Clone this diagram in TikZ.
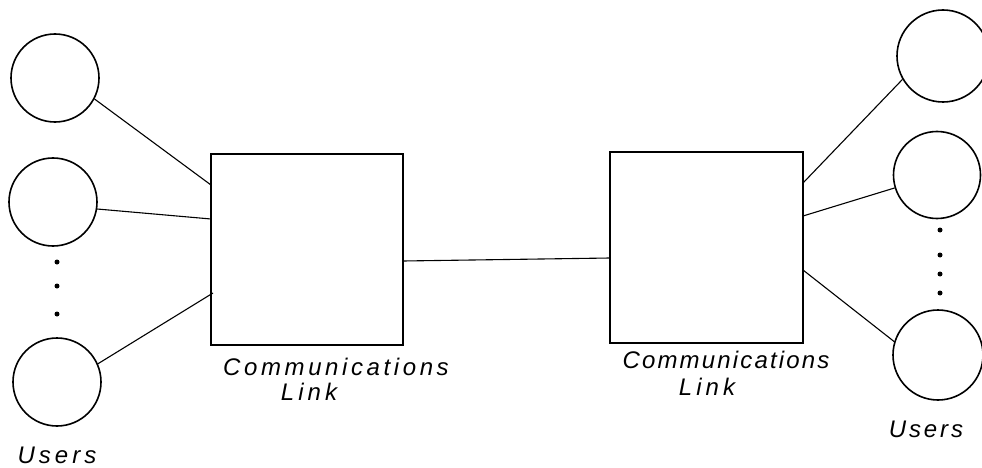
\documentclass[tikz,border=0pt]{standalone}
\usepackage{fontspec}
\setmainfont{Liberation Sans}
\begin{document}
\begin{tikzpicture}[x=1pt,y=-1pt,
  user/.style={draw, circle, line width=1.6pt, minimum size=88pt, inner sep=0pt},
  linkbox/.style={draw, rectangle, line width=1.6pt, inner sep=0pt},
  wire/.style={line width=1.1pt},
  hand/.style={font=\fontsize{24}{26}\selectfont\itshape\addfontfeature{LetterSpace=#1}, inner sep=0pt, anchor=base},
  dotmark/.style={fill, circle, inner sep=0pt, minimum size=5pt}]
  \useasboundingbox (0,0) rectangle (982,468);

  % left group of users
  \node[user] (l1) at (55,78) {};
  \node[user] (l2) at (53,202) {};
  \node[user] (l3) at (57,382) {};
  \node[dotmark] (ld1) at (57,262) {};
  \node[dotmark] (ld2) at (57,286) {};
  \node[dotmark] (ld3) at (57,314) {};

  % right group of users
  \node[user, minimum size=92pt] (r1) at (943,56) {};
  \node[user, minimum size=87pt] (r2) at (937,175) {};
  \node[user, minimum size=90pt] (r3) at (938,355) {};
  \node[dotmark] (rd1) at (940,230) {};
  \node[dotmark] (rd2) at (940,255) {};
  \node[dotmark] (rd3) at (940,274) {};
  \node[dotmark] (rd4) at (940,293) {};

  % communications link boxes
  \node[linkbox, minimum width=192pt, minimum height=191pt] (bl) at (307,249.5) {};
  \node[linkbox, minimum width=193pt, minimum height=191pt] (br) at (706.5,247.5) {};

  % attachment points on the box sides
  \coordinate (bl1) at (211,185);
  \coordinate (bl2) at (211,219);
  \coordinate (bl3) at (213,293);
  \coordinate (bl4) at (403,261);
  \coordinate (br0) at (610,258);
  \coordinate (br1) at (803,183);
  \coordinate (br2) at (803,216);
  \coordinate (br3) at (803,270);

  % connectors
  \draw[wire] (l1.-28) -- (bl1);
  \draw[wire] (l2.-9) -- (bl2);
  \draw[wire] (l3.24) -- (bl3);
  \draw[wire] (bl4) -- (br0);
  \draw[wire] (r1.210) -- (br1);
  \draw[wire] (r2.197) -- (br2);
  \draw[wire] (r3.163) -- (br3);

  % labels
  \node[hand=15] (tl1) at (336,375) {Communications};
  \node[hand=17] (tl2) at (309,400) {Link};
  \node[hand=9] (tr1) at (726,368) {Communications};
  \node[hand=17] (tr2) at (707,395) {Link};
  \node[hand=17] (ul) at (57,463) {Users};
  \node[hand=12] (ur) at (926,437) {Users};
\end{tikzpicture}
\end{document}
